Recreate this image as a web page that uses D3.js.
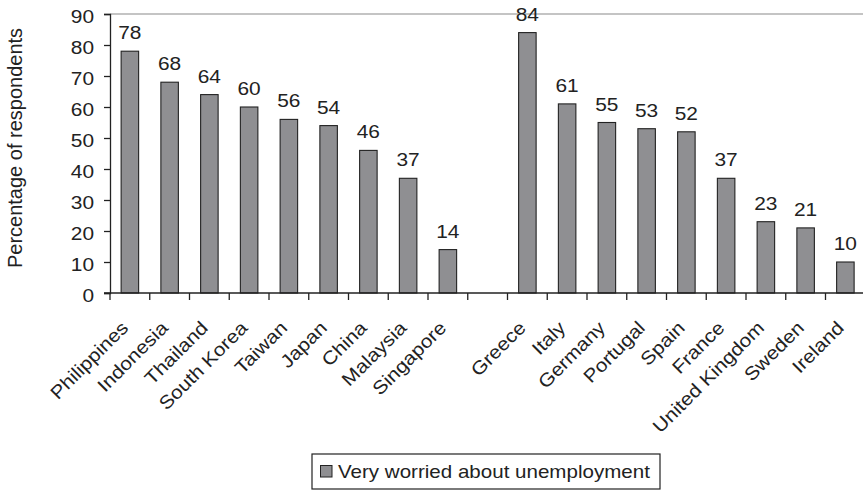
<!DOCTYPE html>
<html>
<head>
<meta charset="utf-8">
<script src="https://cdn.jsdelivr.net/npm/d3@7"></script>
<style>
  html, body { margin: 0; padding: 0; background: #fff; }
  svg { display: block; font-family: "Liberation Sans", Arial, sans-serif; }
</style>
</head>
<body>
<svg id="chart" width="863" height="492"></svg>
<script>
// Survey: share of respondents very worried about unemployment
const asiaCountries = ["Philippines", "Indonesia", "Thailand", "South Korea", "Taiwan", "Japan", "China", "Malaysia", "Singapore"];
const asiaValues = [78, 68, 64, 60, 56, 54, 46, 37, 14];
const europeCountries = ["Greece", "Italy", "Germany", "Portugal", "Spain", "France", "United Kingdom", "Sweden", "Ireland"];
const europeValues = [84, 61, 55, 53, 52, 37, 23, 21, 10];
const yTicks = [0, 10, 20, 30, 40, 50, 60, 70, 80, 90];
const seriesName = "Very worried about unemployment";
const yTitle = "Percentage of respondents";

// An empty slot separates the two regions on the category axis
const gapKey = " ";
const categories = [...asiaCountries, gapKey, ...europeCountries];
const rows = [
  ...asiaCountries.map((c, i) => ({ country: c, value: asiaValues[i] })),
  ...europeCountries.map((c, i) => ({ country: c, value: europeValues[i] }))
];

const svg = d3.select("#chart");
const plotLeft = 110, plotTop = 14, plotBottom = 293;
const band = 39.75;
const plotRight = plotLeft + band * categories.length;

const x = d3.scaleBand().domain(categories).range([plotLeft, plotRight]).paddingInner(0).paddingOuter(0);
const y = d3.scaleLinear().domain([0, 90]).range([plotBottom, plotTop]);
const barW = 17.5;

const ink = "#222";
const fs = 18.5;       // label font size
const stretch = 1.13;  // slightly widened type

// Top reference line at the axis maximum
svg.append("line")
  .attr("x1", plotLeft).attr("x2", 863)
  .attr("y1", y(90)).attr("y2", y(90))
  .attr("stroke", "#c4c4c4").attr("stroke-width", 2);

// Bars
svg.append("g").selectAll("rect").data(rows).join("rect")
  .attr("x", d => x(d.country) + x.bandwidth() / 2 - barW / 2)
  .attr("y", d => y(d.value))
  .attr("width", barW)
  .attr("height", d => y(0) - y(d.value))
  .attr("fill", "#8f8f92")
  .attr("stroke", ink)
  .attr("stroke-width", 1.1);

// Value labels
svg.append("g").selectAll("text").data(rows).join("text")
  .attr("transform", d => `translate(${x(d.country) + x.bandwidth() / 2},${y(d.value) - 12}) scale(${stretch},1)`)
  .attr("text-anchor", "middle")
  .attr("font-size", fs)
  .attr("fill", ink)
  .text(d => d.value);

// Y axis
const yAxis = svg.append("g")
  .attr("transform", `translate(${plotLeft},0)`)
  .call(d3.axisLeft(y).tickValues(yTicks).tickSize(6).tickPadding(10));
yAxis.select(".domain").attr("stroke", ink).attr("stroke-width", 1.3);
yAxis.selectAll(".tick line").attr("stroke", ink).attr("stroke-width", 1.3);
yAxis.selectAll(".tick text")
  .attr("x", 0)
  .attr("dy", "0.46em")
  .attr("transform", `translate(-16,0) scale(${stretch},1)`)
  .attr("font-size", fs).attr("fill", ink)
  .attr("font-family", "Liberation Sans, Arial, sans-serif");

// X axis: ticks sit on the band boundaries
const xAxisG = svg.append("g");
xAxisG.append("line")
  .attr("x1", plotLeft - 6).attr("x2", plotRight)
  .attr("y1", plotBottom).attr("y2", plotBottom)
  .attr("stroke", ink).attr("stroke-width", 1.3);
const boundaries = categories.map(c => x(c)).concat([plotRight]);
xAxisG.selectAll("line.tk").data(boundaries).join("line")
  .attr("class", "tk")
  .attr("x1", d => d).attr("x2", d => d)
  .attr("y1", plotBottom).attr("y2", plotBottom + 7)
  .attr("stroke", ink).attr("stroke-width", 1.3);

// Category labels, rotated
svg.append("g").selectAll("text").data(rows).join("text")
  .attr("transform", d => `translate(${x(d.country) + x.bandwidth() / 2 - 0.5},${plotBottom + 36}) rotate(-45) scale(${stretch},1)`)
  .attr("text-anchor", "end")
  .attr("font-size", fs)
  .attr("fill", ink)
  .text(d => d.country);

// Y axis title
svg.append("text")
  .attr("transform", `translate(22,148) rotate(-90)`)
  .attr("text-anchor", "middle")
  .attr("font-size", 20)
  .attr("fill", ink)
  .text(yTitle);

// Legend
const lg = svg.append("g");
lg.append("rect")
  .attr("x", 312).attr("y", 454).attr("width", 348).attr("height", 35)
  .attr("fill", "none").attr("stroke", ink).attr("stroke-width", 1.2);
lg.append("rect")
  .attr("x", 320.5).attr("y", 465.5).attr("width", 11.5).attr("height", 11.5)
  .attr("fill", "#8f8f92").attr("stroke", ink).attr("stroke-width", 1);
lg.append("text")
  .attr("transform", `translate(338,478) scale(${stretch},1)`)
  .attr("font-size", 18.2)
  .attr("fill", ink)
  .text(seriesName);
</script>
</body>
</html>
